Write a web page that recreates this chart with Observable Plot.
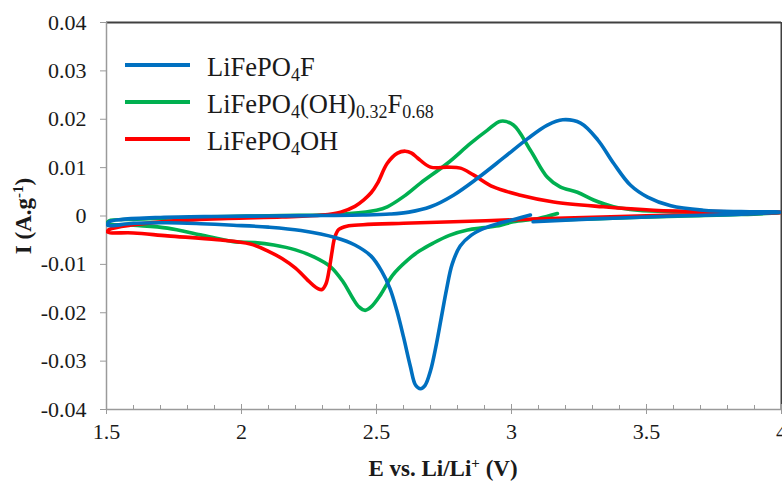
<!DOCTYPE html>
<html>
<head>
<meta charset="utf-8">
<script src="https://cdn.jsdelivr.net/npm/d3@7"></script>
<script src="https://cdn.jsdelivr.net/npm/@observablehq/plot@0.6"></script>
<style>
  html, body { margin: 0; padding: 0; background: #fff; }
  #chart svg { display: block; }
  #chart svg, #chart svg text, #chart svg tspan { font-family: "Liberation Serif", "Times New Roman", serif !important; }
</style>
</head>
<body>
<div id="chart"></div>
<script>
// ---- data ----
const seriesNames = ["LiFePO4F", "LiFePO4(OH)0.32F0.68", "LiFePO4OH"];
const seriesColors = ["#0070C0", "#00B050", "#FF0000"];

// LiFePO4F (blue): starts ~3.07 V, cathodic to 1.5, anodic to 4.0, back to 3.08
const blueE = [3.07, 3.01, 2.96, 2.90, 2.85, 2.81, 2.78, 2.76, 2.74, 2.72, 2.70, 2.68, 2.663, 2.645, 2.625, 2.60, 2.575, 2.55, 2.52, 2.48, 2.42, 2.35, 2.22, 2.10, 1.97, 1.85, 1.726, 1.60, 1.504,
  1.51, 1.56, 1.70, 1.90, 2.10, 2.30, 2.45, 2.55, 2.62, 2.70, 2.785, 2.874, 2.97, 3.06, 3.133, 3.19, 3.256, 3.32, 3.378, 3.44, 3.504, 3.59, 3.71, 3.85, 3.996,
  3.90, 3.75, 3.60, 3.45, 3.30, 3.18, 3.08];
const blueI = [0.0002, -0.0007, -0.0014, -0.0025, -0.0040, -0.0062, -0.0100, -0.0150, -0.0210, -0.0270, -0.0320, -0.0350, -0.0357, -0.0350, -0.0310, -0.0250, -0.0195, -0.0150, -0.0115, -0.0083, -0.0060, -0.0045, -0.0030, -0.0023, -0.0019, -0.0016, -0.0014, -0.0015, -0.0019,
  -0.0012, -0.0007, -0.0003, -0.0001, 0.0000, 0.0001, 0.0002, 0.0004, 0.0008, 0.0019, 0.0043, 0.0078, 0.0120, 0.0160, 0.0188, 0.0199, 0.0192, 0.0157, 0.0109, 0.0064, 0.0039, 0.0021, 0.0012, 0.0009, 0.0008,
  0.0005, 0.0002, 0.0000, -0.0003, -0.0006, -0.0009, -0.0012];

// LiFePO4(OH)0.32F0.68 (green): starts ~3.17 V
const greenE = [3.17, 3.10, 3.007, 2.96, 2.90, 2.837, 2.77, 2.71, 2.66, 2.615, 2.56, 2.515, 2.48, 2.458, 2.435, 2.41, 2.375, 2.33, 2.27, 2.20, 2.12, 2.05, 1.97, 1.848, 1.726, 1.60, 1.504,
  1.51, 1.60, 1.75, 1.95, 2.15, 2.30, 2.40, 2.50, 2.54, 2.60, 2.663, 2.763, 2.848, 2.91, 2.96, 3.007, 3.07, 3.133, 3.18, 3.244, 3.304, 3.378, 3.467, 3.60, 3.80, 3.996,
  3.85, 3.65, 3.45, 3.30, 3.17];
const greenI = [0.0005, -0.0005, -0.0012, -0.0019, -0.0024, -0.0029, -0.0040, -0.0056, -0.0072, -0.0091, -0.0122, -0.0163, -0.0188, -0.0195, -0.0188, -0.0168, -0.0135, -0.0105, -0.0085, -0.0070, -0.0060, -0.0055, -0.0053, -0.0039, -0.0025, -0.0019, -0.0015,
  -0.0010, -0.0007, -0.0004, -0.0001, 0.0001, 0.0002, 0.0005, 0.0012, 0.0019, 0.0040, 0.0068, 0.0109, 0.0150, 0.0177, 0.0196, 0.0188, 0.0136, 0.0080, 0.0060, 0.0049, 0.0033, 0.0019, 0.0012, 0.0009, 0.0008, 0.0007,
  0.0003, 0.0000, -0.0003, -0.0006, -0.0008];

// LiFePO4OH (red)
const redE = [3.996, 3.80, 3.60, 3.40, 3.20, 3.00, 2.785, 2.60, 2.45, 2.39, 2.36, 2.345, 2.335, 2.325, 2.313, 2.298, 2.283, 2.265, 2.244, 2.20, 2.15, 2.10, 2.033, 1.91, 1.726, 1.60, 1.504,
  1.51, 1.60, 1.75, 1.95, 2.15, 2.30, 2.367, 2.42, 2.452, 2.48, 2.504, 2.54, 2.578, 2.607, 2.63, 2.652, 2.70, 2.763, 2.811, 2.859, 2.933, 3.033, 3.156, 3.34, 3.526, 3.75, 3.996];
const redI = [0.0007, 0.0004, 0.0002, -0.0001, -0.0004, -0.0008, -0.0012, -0.0015, -0.0018, -0.0021, -0.0028, -0.0045, -0.0075, -0.0110, -0.0140, -0.0152, -0.0150, -0.0143, -0.0132, -0.0108, -0.0088, -0.0073, -0.0058, -0.0049, -0.0041, -0.0035, -0.0033,
  -0.0028, -0.0018, -0.0010, -0.0005, -0.0002, 0.0002, 0.0008, 0.0020, 0.0033, 0.0048, 0.0068, 0.0109, 0.0130, 0.0134, 0.0130, 0.0120, 0.0101, 0.0101, 0.0099, 0.0085, 0.0060, 0.0043, 0.0029, 0.0019, 0.0012, 0.0009, 0.0008];

const xMajorTicks = [1.5, 2, 2.5, 3, 3.5, 4];
const xMinorTicks = [1.6, 1.7, 1.8, 1.9, 2.1, 2.2, 2.3, 2.4, 2.6, 2.7, 2.8, 2.9, 3.1, 3.2, 3.3, 3.4, 3.6, 3.7, 3.8, 3.9];
const yTicks = [-0.04, -0.03, -0.02, -0.01, 0, 0.01, 0.02, 0.03, 0.04];
const xDomain = [1.5, 4];
const yDomain = [-0.04, 0.04];

// ---- build rows ----
const rows = (E, I) => E.map((e, i) => ({E: e, I: I[i]}));
const blueRows = rows(blueE, blueI);
const greenRows = rows(greenE, greenI);
const redRows = rows(redE, redI);

const FONT = "Liberation Serif, Times New Roman, serif";
const AXIS = "#9a9a9a";
const FRAME = "#404040";
const INK = "#1a1a1a";

const plot = Plot.plot({
  width: 782,
  height: 483,
  marginLeft: 106,
  marginRight: 1,
  marginTop: 22,
  marginBottom: 74,
  style: {fontFamily: FONT, background: "#fff", color: INK},
  x: {domain: xDomain},
  y: {domain: yDomain},
  marks: [
    // frame: top and right dark, left and bottom gray axes
    Plot.ruleY([yDomain[1]], {stroke: FRAME, strokeWidth: 2}),
    Plot.ruleX([xDomain[1]], {stroke: FRAME, strokeWidth: 2}),
    Plot.ruleX([xDomain[0]], {stroke: AXIS, strokeWidth: 1.5}),
    Plot.ruleY([yDomain[0]], {stroke: AXIS, strokeWidth: 1.5}),
    Plot.axisY({ticks: yTicks, tickSize: 6, tickPadding: 14, stroke: AXIS, fill: INK,
      fontSize: 22, fontFamily: FONT, label: null, tickFormat: d => d === 0 ? "0" : d.toFixed(2)}),
    Plot.axisX({ticks: xMajorTicks, tickSize: 5, tickPadding: 9, stroke: AXIS, fill: INK,
      fontSize: 22, fontFamily: FONT, label: null, tickFormat: d => String(d)}),
    Plot.axisX({ticks: xMajorTicks, tickSize: -5, text: null, stroke: AXIS, label: null}),
    Plot.axisX({ticks: xMinorTicks, tickSize: -4, text: null, stroke: AXIS, label: null}),
    Plot.line(greenRows, {x: "E", y: "I", stroke: seriesColors[1], strokeWidth: 3.6, curve: "catmull-rom", clip: true}),
    Plot.line(redRows, {x: "E", y: "I", stroke: seriesColors[2], strokeWidth: 3.6, curve: "catmull-rom", clip: true}),
    Plot.line(blueRows, {x: "E", y: "I", stroke: seriesColors[0], strokeWidth: 3.6, curve: "catmull-rom", clip: true})
  ]
});
document.getElementById("chart").appendChild(plot);

// ---- titles and legend (rich text with sub/superscripts) ----
const svg = d3.select(plot);

// y-axis title
const yt = svg.append("text")
  .attr("transform", "translate(31,216) rotate(-90)")
  .attr("text-anchor", "middle")
  .attr("font-family", FONT).attr("font-size", 23).attr("font-weight", "bold").attr("fill", INK);
yt.append("tspan").text("I (A.g");
yt.append("tspan").attr("font-size", 15).attr("dy", -8).text("-1");
yt.append("tspan").attr("dy", 8).text(")");

// x-axis title
const xt = svg.append("text")
  .attr("x", 443).attr("y", 476)
  .attr("text-anchor", "middle")
  .attr("font-family", FONT).attr("font-size", 23).attr("font-weight", "bold").attr("fill", INK);
xt.append("tspan").text("E vs. Li/Li");
xt.append("tspan").attr("font-size", 15).attr("dy", -8).text("+");
xt.append("tspan").attr("dy", 8).text(" (V)");

// legend
const legendParts = [
  [["LiFePO", 0], ["4", 1], ["F", 0]],
  [["LiFePO", 0], ["4", 1], ["(OH)", 0], ["0.32", 1], ["F", 0], ["0.68", 1]],
  [["LiFePO", 0], ["4", 1], ["OH", 0]]
];
const legendY = [65, 102, 139];
legendParts.forEach((parts, k) => {
  const y = legendY[k];
  svg.append("line").attr("x1", 125).attr("x2", 190).attr("y1", y).attr("y2", y)
    .attr("stroke", seriesColors[k]).attr("stroke-width", 4);
  const t = svg.append("text").attr("x", 207).attr("y", y + 11)
    .attr("text-anchor", "start")
    .attr("font-family", FONT).attr("font-size", 26.5).attr("fill", INK);
  let sub = false;
  parts.forEach(([s, isSub]) => {
    const ts = t.append("tspan").text(s);
    if (isSub && !sub) { ts.attr("dy", 5).attr("font-size", 18); sub = true; }
    else if (isSub && sub) { ts.attr("font-size", 18); }
    else if (!isSub && sub) { ts.attr("dy", -5); sub = false; }
  });
});
</script>
</body>
</html>
